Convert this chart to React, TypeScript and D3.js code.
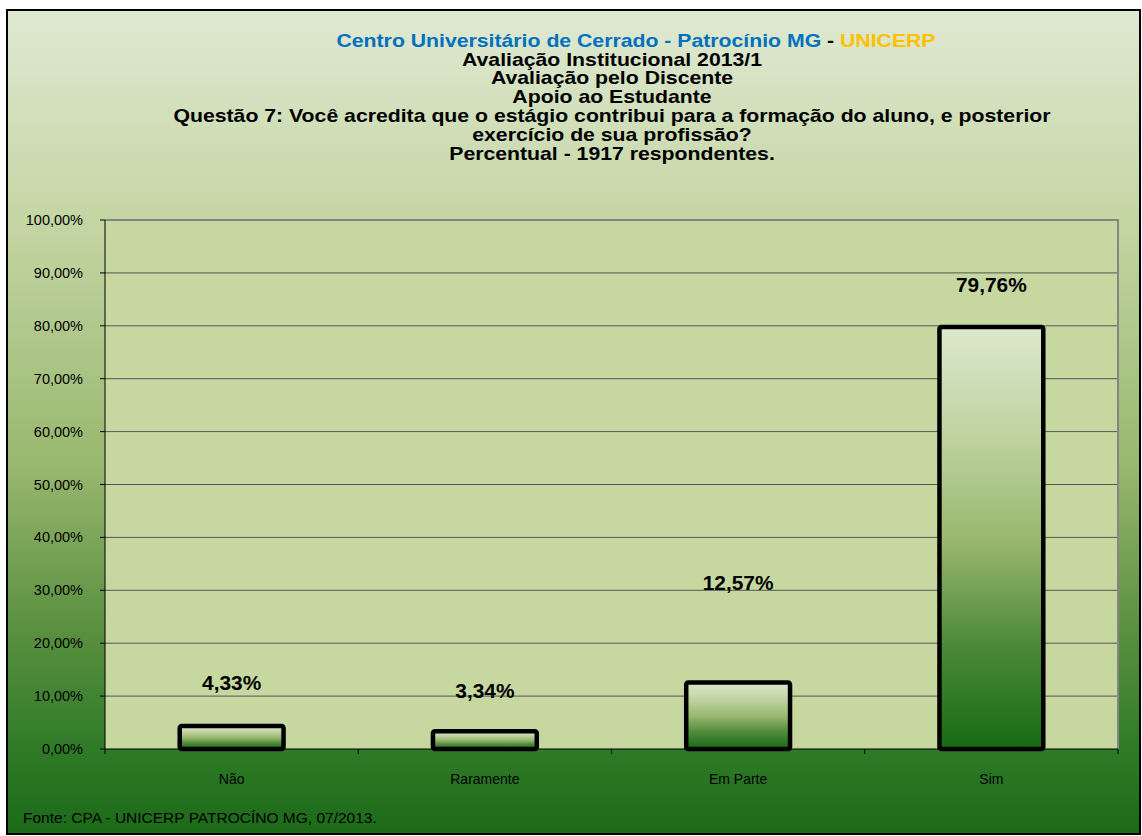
import * as d3 from "d3";

const categories = ["Não", "Raramente", "Em Parte", "Sim"];
const values = [4.33, 3.34, 12.57, 79.76];
const labelLift = [8.15, 7.6, 18.8, 7.9];
const yTicks = [0, 10, 20, 30, 40, 50, 60, 70, 80, 90, 100];
const titleLines = [
  "Avaliação Institucional 2013/1",
  "Avaliação pelo Discente",
  "Apoio ao Estudante",
  "Questão 7: Você acredita que o estágio contribui para a formação do aluno, e posterior",
  "exercício de sua profissão?",
  "Percentual - 1917 respondentes.",
];

const W = 1142;
const H = 836;
const margin = { left: 105, right: 24, top: 220, bottom: 87 };
const font = "'Liberation Sans', Arial, sans-serif";

const fmt = (v: number) => v.toFixed(2).replace(".", ",") + "%";

export default function App() {
  const x = d3
    .scaleBand()
    .domain(categories)
    .range([margin.left, W - margin.right])
    .paddingInner(0.59)
    .paddingOuter(0.295);
  const band = d3.scaleBand().domain(categories).range([margin.left, W - margin.right]);
  const y = d3.scaleLinear().domain([0, 100]).range([H - margin.bottom, margin.top]);
  const x0 = margin.left;
  const x1 = W - margin.right;

  return (
    <svg
      width={W}
      height={H}
      style={{ position: "absolute", left: 0, top: 0 }}
      fontFamily={font}
    >
      <defs>
        <linearGradient id="bg" x1="0" y1="0" x2="0" y2="1">
          <stop offset="0" stopColor="#dfe9d2" />
          <stop offset="0.25" stopColor="#c5d6a5" />
          <stop offset="0.55" stopColor="#99b86f" />
          <stop offset="0.75" stopColor="#5a9040" />
          <stop offset="0.9" stopColor="#2e7a27" />
          <stop offset="1" stopColor="#1b6a18" />
        </linearGradient>
        <linearGradient id="bar" x1="0" y1="0" x2="0" y2="1">
          <stop offset="0" stopColor="#dce9cd" />
          <stop offset="0.25" stopColor="#c0d4a2" />
          <stop offset="0.5" stopColor="#9ab870" />
          <stop offset="0.75" stopColor="#4d8a3a" />
          <stop offset="1" stopColor="#176a15" />
        </linearGradient>
      </defs>
      <rect x={7} y={10} width={1133} height={824} fill="url(#bg)" stroke="#000" strokeWidth={2} />
      <rect
        x={x0}
        y={margin.top}
        width={x1 - x0}
        height={y(0) - margin.top}
        fill="#c6d8a0"
      />
      {yTicks.slice(1, -1).map((t) => (
        <line key={t} x1={x0} x2={x1} y1={y(t)} y2={y(t)} stroke="#555" strokeWidth={1} />
      ))}
      <polyline
        points={`${x0},${margin.top} ${x1},${margin.top} ${x1},${y(0)}`}
        fill="none"
        stroke="#858585"
        strokeWidth={2}
      />
      {categories.map((c, i) => {
        const bx = x(c)!;
        const bw = x.bandwidth();
        const top = y(values[i]);
        return (
          <g key={c}>
            <rect
              x={bx}
              y={top}
              width={bw}
              height={y(0) - top}
              fill="url(#bar)"
              stroke="#000"
              strokeWidth={4.5}
              rx={2}
            />
            <g transform={`translate(${bx + bw / 2},${y(values[i] + labelLift[i]) + 7}) scale(1.07,1)`}>
              <text textAnchor="middle" fontSize={19.5} fontWeight="bold" fill="#000">
                {fmt(values[i])}
              </text>
            </g>
            <text
              x={band(c)! + band.bandwidth() / 2}
              y={y(0) + 35}
              textAnchor="middle"
              fontSize={14}
              fill="#000"
            >
              {c}
            </text>
          </g>
        );
      })}
      <line x1={x0} x2={x0} y1={margin.top} y2={y(0)} stroke="#000" strokeWidth={1} />
      <line x1={x0} x2={x1} y1={y(0)} y2={y(0)} stroke="#000" strokeWidth={1} />
      {yTicks.map((t) => (
        <g key={t}>
          <line x1={x0 - 5} x2={x0} y1={y(t)} y2={y(t)} stroke="#000" />
          <text x={83} y={y(t) + 5} textAnchor="end" fontSize={14.5} fill="#000">
            {fmt(t)}
          </text>
        </g>
      ))}
      {categories.map((c) => (
        <line
          key={"t" + c}
          x1={band(c)! + band.bandwidth()}
          x2={band(c)! + band.bandwidth()}
          y1={y(0)}
          y2={y(0) + 5}
          stroke="#000"
        />
      ))}
      <line x1={x0} x2={x0} y1={y(0)} y2={y(0) + 5} stroke="#000" />
      <g transform="translate(636,46.5) scale(1.18,1)">
        <text textAnchor="middle" fontSize={18} fontWeight="bold">
          <tspan fill="#0070c0">Centro Universitário de Cerrado - Patrocínio MG</tspan>
          <tspan fill="#000"> - </tspan>
          <tspan fill="#ffc000">UNICERP</tspan>
        </text>
      </g>
      {titleLines.map((l, i) => (
        <g key={i} transform={`translate(612,${65.5 + i * 18.8}) scale(1.18,1)`}>
          <text textAnchor="middle" fontSize={18} fontWeight="bold" fill="#000">
            {l}
          </text>
        </g>
      ))}
      <text x={23} y={823} fontSize={15.5} fill="#000">
        Fonte: CPA - UNICERP PATROCÍNO MG, 07/2013.
      </text>
    </svg>
  );
}
